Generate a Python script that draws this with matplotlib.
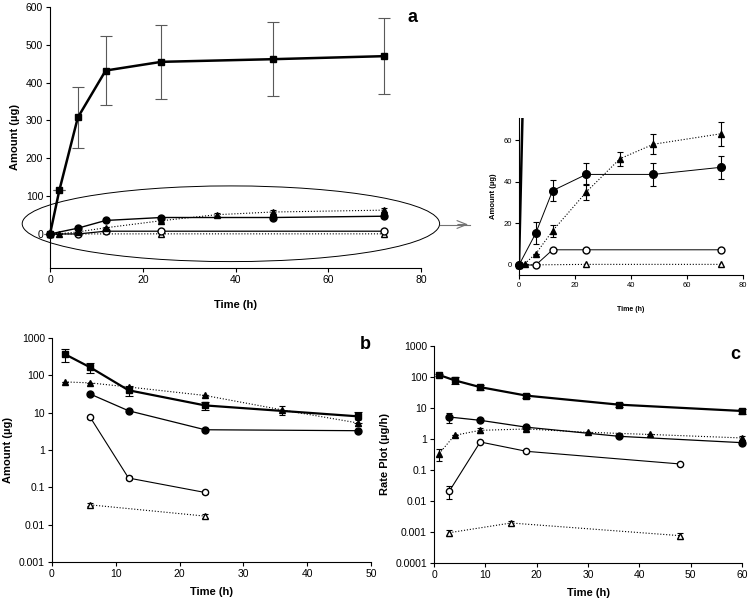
import matplotlib
matplotlib.use("Agg")
import matplotlib.pyplot as plt
from matplotlib.patches import Ellipse
from matplotlib.ticker import FixedLocator, FuncFormatter, NullLocator
import numpy as np

plt.rcParams['font.family'] = ['Liberation Sans', 'DejaVu Sans']
plt.rcParams['font.size'] = 7

# ---- panel a (cumulative amount) ----
a_t_sq = [0, 2, 6, 12, 24, 48, 72]
a_sq = [0, 115, 308, 432, 455, 462, 470]
a_sq_err = [0, 0, 81, 92, 97, 98, 100]

a_t_fc = [0, 6, 12, 24, 48, 72]
a_fc = [0, 15.3, 35.7, 43.5, 43.5, 46.9]
a_fc_err = [0, 5.2, 5.1, 5.3, 5.4, 5.4]

a_t_ft = [0, 2, 6, 12, 24, 36, 48, 72]
a_ft = [0, 0.6, 5.4, 16.4, 35, 51, 58, 63]
a_ft_err = [0, 0, 0, 2.8, 4, 3.5, 4.7, 5.8]

a_t_oc = [0, 6, 12, 24, 72]
a_oc = [0, 0, 7.3, 7.3, 7.3]

a_t_ot = [0, 24, 72]
a_ot = [0, 0.3, 0.3]

# ---- panel b (amount remaining, log) ----
b_t_sq = [2, 6, 12, 24, 48]
b_sq = [372, 164, 40, 15.7, 8.0]
b_sq_err = [150, 50, 12, 4, 2.7]

b_t_ft = [2, 6, 12, 24, 36, 48]
b_ft = [67, 63, 49, 29, 12, 5.3]
b_ft_err = [0, 0, 0, 0, 3.5, 1.0]

b_t_fc = [6, 12, 24, 48]
b_fc = [31.6, 11.3, 3.5, 3.3]
b_fc_err = [2, 0.8, 0.3, 0.3]

b_t_oc = [6, 12, 24]
b_oc = [7.5, 0.178, 0.073]
b_oc_err = [0.8, 0.02, 0.008]

b_t_ot = [6, 24]
b_ot = [0.034, 0.017]
b_ot_err = [0.003, 0.002]

# ---- panel c (rate plot, log) ----
c_t_sq = [1, 4, 9, 18, 36, 60]
c_sq = [116, 78, 47, 25, 12.8, 8.0]
c_sq_err = [8, 20, 8, 4, 2, 1.5]

c_t_fc = [3, 9, 18, 36, 60]
c_fc = [5.1, 4.0, 2.4, 1.22, 0.76]
c_fc_err = [1.8, 0.4, 0.3, 0.1, 0.1]

c_t_ft = [1, 4, 9, 18, 30, 42, 60]
c_ft = [0.34, 1.31, 1.9, 2.1, 1.64, 1.4, 1.08]
c_ft_err = [0.15, 0, 0.3, 0.3, 0, 0, 0.15]

c_t_oc = [3, 9, 18, 48]
c_oc = [0.021, 0.80, 0.40, 0.156]
c_oc_err = [0.009, 0.05, 0.03, 0.01]

c_t_ot = [3, 15, 48]
c_ot = [0.00095, 0.00195, 0.00076]
c_ot_err = [0.0002, 0.0003, 0.00015]


def style(ax, fs=7.5):
    ax.spines['top'].set_visible(False)
    ax.spines['right'].set_visible(False)
    ax.tick_params(direction='out', length=3, width=0.8, labelsize=fs, pad=2)
    ax.patch.set_alpha(0)


def series(ax, t, y, err, mk, fill, ls, lw, ms, cap=2.5, col='black'):
    ax.errorbar(t, y, yerr=err, fmt=mk, ls=ls, lw=lw, color='black',
                mfc='black' if fill else 'white', mec='black', ms=ms,
                ecolor=col, elinewidth=0.8, capsize=cap, capthick=0.8,
                clip_on=False, zorder=3)


def log_axis(ax, lo, hi):
    ax.set_yscale('log')
    ax.set_ylim(lo, hi)
    ticks = [10.0 ** k for k in range(int(round(np.log10(lo))), int(round(np.log10(hi))) + 1)]
    ax.yaxis.set_major_locator(FixedLocator(ticks))
    ax.yaxis.set_minor_locator(NullLocator())
    ax.yaxis.set_major_formatter(FuncFormatter(lambda v, p: ('%g' % v) if v >= 1 else ('%.10f' % v).rstrip('0')))


fig = plt.figure(figsize=(7.5, 6.02), dpi=100)

# panel a
ax = fig.add_axes([0.0667, 0.5548, 0.4947, 0.4336])
style(ax)
series(ax, a_t_ot, a_ot, None, '^', False, ':', 0.8, 4.5)
series(ax, a_t_oc, a_oc, None, 'o', False, '-', 0.9, 5)
series(ax, a_t_ft, a_ft, a_ft_err, '^', True, ':', 0.8, 4.5)
series(ax, a_t_fc, a_fc, a_fc_err, 'o', True, '-', 1.0, 5)
series(ax, a_t_sq, a_sq, a_sq_err, 's', True, '-', 1.8, 5, cap=4, col='0.35')
ax.set_xlim(0, 80)
ax.set_ylim(-90, 600)
ax.set_yticks([0, 100, 200, 300, 400, 500, 600])
ax.set_xticks([0, 20, 40, 60, 80])
ax.set_xlabel('Time (h)', fontweight='bold', fontsize=8, labelpad=11)
ax.set_ylabel('Amount (µg)', fontweight='bold', fontsize=8, labelpad=4)
ax.text(0.99, 0.96, 'a', transform=ax.transAxes, fontsize=13, fontweight='bold',
        ha='right', va='center')
ell = Ellipse((39, 27), 90, 200, fill=False, edgecolor='black', lw=0.7, clip_on=False)
ax.add_patch(ell)
fig.add_artist(plt.Line2D([440 / 750, 470 / 750], [1 - 224.5 / 602] * 2,
                          color='0.45', lw=0.8))
ax.annotate('', xy=(471 / 750, 1 - 224.5 / 602), xytext=(455 / 750, 1 - 224.5 / 602),
            xycoords='figure fraction',
            arrowprops=dict(arrowstyle='->,head_length=1.0,head_width=0.4',
                            color='0.45', lw=0.8))

# inset of panel a
ai = fig.add_axes([0.692, 0.5432, 0.2987, 0.2608])
style(ai, fs=5.5)
series(ai, a_t_ot, a_ot, None, '^', False, ':', 0.8, 4)
series(ai, a_t_oc, a_oc, None, 'o', False, '-', 0.7, 5)
series(ai, a_t_ft, a_ft, a_ft_err, '^', True, ':', 0.8, 4.5)
series(ai, a_t_fc, a_fc, a_fc_err, 'o', True, '-', 0.7, 5.5)
ai.plot(a_t_sq, a_sq, color='black', lw=1.8, zorder=4)
ai.set_xlim(0, 80)
ai.set_ylim(-4.8, 70.6)
ai.set_yticks([0, 20, 40, 60])
ai.set_xticks([0, 20, 40, 60, 80])
ai.set_xlabel('Time (h)', fontweight='bold', fontsize=5, labelpad=12)
ai.set_ylabel('Amount (µg)', fontweight='bold', fontsize=5.5, labelpad=5)

# panel b
bx = fig.add_axes([0.0693, 0.0664, 0.4253, 0.372])
style(bx)
series(bx, b_t_ot, b_ot, b_ot_err, '^', False, ':', 0.8, 4)
series(bx, b_t_oc, b_oc, b_oc_err, 'o', False, '-', 0.8, 4.5)
series(bx, b_t_ft, b_ft, b_ft_err, '^', True, ':', 0.8, 4.5)
series(bx, b_t_fc, b_fc, b_fc_err, 'o', True, '-', 0.9, 5)
series(bx, b_t_sq, b_sq, b_sq_err, 's', True, '-', 1.6, 5, cap=3)
bx.set_xlim(0, 50)
log_axis(bx, 1e-3, 1e3)
bx.set_xticks([0, 10, 20, 30, 40, 50])
bx.set_xlabel('Time (h)', fontweight='bold', fontsize=8, labelpad=6)
bx.set_ylabel('Amount (µg)', fontweight='bold', fontsize=8, labelpad=4)
bx.text(1.0, 0.97, 'b', transform=bx.transAxes, fontsize=13, fontweight='bold',
        ha='right', va='center')

# panel c
cx = fig.add_axes([0.5787, 0.0648, 0.4107, 0.3605])
style(cx)
series(cx, c_t_ot, c_ot, c_ot_err, '^', False, ':', 0.8, 4)
series(cx, c_t_oc, c_oc, c_oc_err, 'o', False, '-', 0.8, 4.5)
series(cx, c_t_ft, c_ft, c_ft_err, '^', True, ':', 0.8, 4.5)
series(cx, c_t_fc, c_fc, c_fc_err, 'o', True, '-', 0.9, 5)
series(cx, c_t_sq, c_sq, c_sq_err, 's', True, '-', 1.6, 5, cap=3)
cx.set_xlim(0, 60)
log_axis(cx, 1e-4, 1e3)
cx.set_xticks([0, 10, 20, 30, 40, 50, 60])
cx.set_xlabel('Time (h)', fontweight='bold', fontsize=8, labelpad=6)
cx.set_ylabel('Rate Plot (µg/h)', fontweight='bold', fontsize=8, labelpad=4)
cx.text(0.995, 0.96, 'c', transform=cx.transAxes, fontsize=13, fontweight='bold',
        ha='right', va='center')

fig.savefig('out.png', dpi=100)
